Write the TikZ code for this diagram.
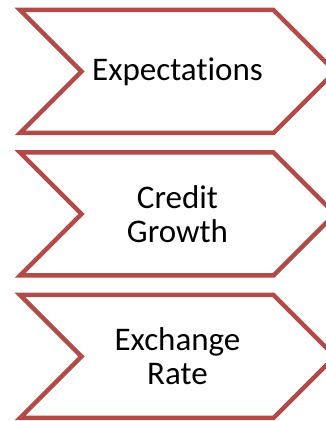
\documentclass[tikz,border=0pt]{standalone}
\usepackage{fontspec}
\setmainfont[Ligatures=NoCommon]{Carlito}
\usetikzlibrary{shapes.symbols,positioning}
\definecolor{chevronred}{RGB}{178,75,72}

\begin{document}
\begin{tikzpicture}[x=1pt,y=1pt,node distance=142.5pt,
    chevron/.style={signal, signal from=west, signal to=east,
      signal pointer angle=90, draw=chevronred, fill=white,
      line width=4.5pt, minimum width=315pt, minimum height=123pt,
      align=center, inner sep=0pt,
      font=\fontsize{33}{34}\selectfont}]
    \useasboundingbox (0,0) rectangle (326,421);
    \clip (0,0) rectangle (326,421);
    \node [chevron] (expect) at (177.5,349.5) {Expectations};
    \node [chevron] (credit) [below of=expect] {Credit\\Growth};
    \node [chevron] (rate) [below of=credit] {Exchange\\Rate};
\end{tikzpicture}
\end{document}
